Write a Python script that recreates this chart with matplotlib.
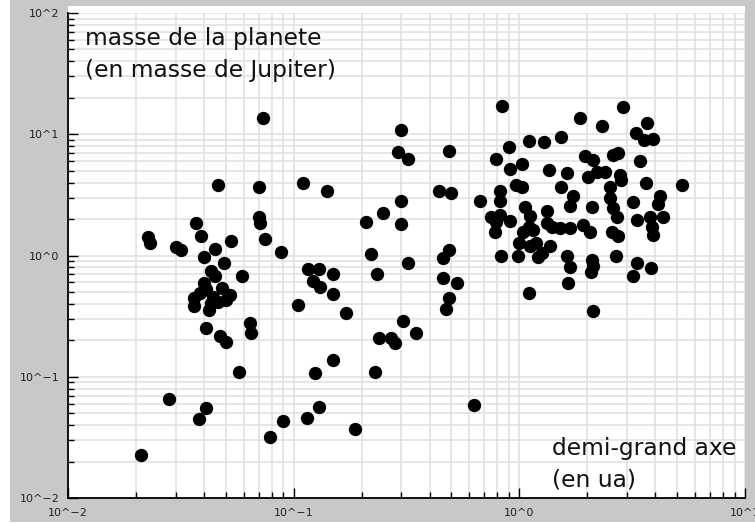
import matplotlib
matplotlib.use("Agg")
import matplotlib.pyplot as plt
from matplotlib.patches import Rectangle
from matplotlib.ticker import FixedLocator, FixedFormatter, LogLocator, NullFormatter

# Exoplanets: semi-major axis (AU) and mass (Jupiter masses)
semi_major_axis = [
    # hot / warm planets
    0.073, 0.046, 0.070, 0.070, 0.071, 0.037, 0.0227, 0.023, 0.039, 0.053,
    0.075, 0.030, 0.0316, 0.088, 0.045, 0.040, 0.049, 0.043, 0.045, 0.059,
    0.040, 0.041, 0.048, 0.036, 0.036, 0.042, 0.046, 0.052, 0.044, 0.0385,
    0.050, 0.043, 0.041, 0.047, 0.050, 0.064, 0.065, 0.057, 0.028, 0.041,
    0.038, 0.090, 0.0785, 0.021,
    # intermediate orbits
    0.30, 0.29, 0.32, 0.49, 0.11, 0.14, 0.44, 0.50, 0.30, 0.25,
    0.21, 0.30, 0.22, 0.32, 0.49, 0.46, 0.116, 0.13, 0.15, 0.235,
    0.122, 0.131, 0.46, 0.53, 0.15, 0.105, 0.49, 0.475, 0.17, 0.306,
    0.35, 0.24, 0.27, 0.28, 0.15, 0.124, 0.23, 0.13, 0.114, 0.187,
    0.63, 0.67,
    # outer planets
    0.84, 2.87, 1.86, 3.69, 2.32, 3.28, 3.57, 3.90, 1.10, 1.29,
    1.53, 0.90, 1.95, 2.13, 2.61, 2.74, 0.785, 3.42, 0.91, 1.03,
    1.35, 1.62, 2.02, 2.21, 2.40, 2.79, 2.81, 0.97, 1.03, 1.53,
    3.63, 5.24, 2.52, 0.82, 0.82, 1.73, 1.68, 2.52, 2.61, 4.20,
    4.13, 3.20, 1.06, 1.32, 2.10, 0.75, 0.82, 0.79, 0.91, 1.12,
    2.70, 3.31, 3.78, 4.34, 0.78, 1.10, 1.04, 1.15, 1.32, 1.39,
    1.51, 1.68, 1.91, 2.05, 2.57, 2.74, 3.86, 3.92, 1.00, 1.19,
    1.37, 1.12, 0.83, 0.99, 1.21, 1.26, 1.62, 1.68, 2.09, 2.11,
    2.07, 2.67, 3.31, 3.20, 3.83, 1.64, 1.10, 2.13,
]

planet_mass = [
    # hot / warm planets
    13.7, 3.8, 3.7, 2.09, 1.87, 1.84, 1.43, 1.27, 1.45, 1.32,
    1.36, 1.17, 1.11, 1.07, 1.13, 0.97, 0.87, 0.745, 0.68, 0.68,
    0.59, 0.53, 0.54, 0.45, 0.38, 0.355, 0.41, 0.47, 0.455, 0.49,
    0.43, 0.405, 0.25, 0.218, 0.195, 0.276, 0.228, 0.109, 0.065, 0.055,
    0.0446, 0.043, 0.032, 0.0227,
    # intermediate orbits
    10.8, 7.1, 6.2, 7.3, 4.0, 3.4, 3.4, 3.26, 2.83, 2.23,
    1.88, 1.82, 1.02, 0.87, 1.11, 0.96, 0.77, 0.77, 0.71, 0.70,
    0.62, 0.555, 0.65, 0.59, 0.477, 0.39, 0.444, 0.364, 0.336, 0.29,
    0.228, 0.21, 0.208, 0.189, 0.137, 0.107, 0.11, 0.056, 0.0455, 0.037,
    0.058, 2.83,
    # outer planets
    17.2, 16.7, 13.7, 12.3, 11.8, 10.2, 9.05, 9.1, 8.85, 8.6,
    9.5, 7.8, 6.66, 6.1, 6.74, 7.07, 6.2, 6.05, 5.2, 5.65,
    5.07, 4.8, 4.47, 4.9, 4.84, 4.6, 4.2, 3.85, 3.67, 3.65,
    3.94, 3.84, 3.67, 3.38, 2.84, 3.10, 2.58, 2.96, 2.45, 3.10,
    2.66, 2.75, 2.51, 2.33, 2.5, 2.09, 2.16, 1.90, 1.93, 2.13,
    2.09, 1.98, 2.06, 2.09, 1.57, 1.73, 1.57, 1.62, 1.84, 1.73,
    1.68, 1.68, 1.79, 1.57, 1.57, 1.46, 1.73, 1.48, 1.26, 1.26,
    1.20, 1.20, 1.0, 1.0, 0.98, 1.04, 0.99, 0.80, 0.91, 0.82,
    0.73, 0.99, 0.86, 0.68, 0.79, 0.595, 0.49, 0.35,
]

x_ticks = [0.01, 0.1, 1, 10]
x_tick_labels = ["10^\u22122", "10^\u22121", "10^0", "10^1"]
y_ticks = [0.01, 0.1, 1, 10, 100]
y_tick_labels = ["10^\u22122", "10^\u22121", "10^0", "10^1", "10^2"]

y_title = ["masse de la planete", "(en masse de Jupiter)"]
x_title = ["demi-grand axe", "(en ua)"]

W, H = 755, 523
fig = plt.figure(figsize=(W / 100, H / 100), dpi=100, facecolor="white")

# grey frame and white plotting panel
fig.patches.append(Rectangle((10 / W, 1.3 / H), 1 - 10 / W, 1 - 1.3 / H,
                             transform=fig.transFigure, facecolor="#c8c8c8",
                             edgecolor="none", zorder=-10))
fig.patches.append(Rectangle((68 / W, 25 / H), 677 / W, 492 / H,
                             transform=fig.transFigure, facecolor="white",
                             edgecolor="none", zorder=-9))

ax = fig.add_axes([68 / W, 25 / H, 677 / W, 485 / H])
ax.set_facecolor("white")
ax.set_xscale("log")
ax.set_yscale("log")
ax.set_xlim(0.01, 10)
ax.set_ylim(0.01, 100)

ax.xaxis.set_major_locator(FixedLocator(x_ticks))
ax.xaxis.set_major_formatter(FixedFormatter(x_tick_labels))
ax.yaxis.set_major_locator(FixedLocator(y_ticks))
ax.yaxis.set_major_formatter(FixedFormatter(y_tick_labels))
for axis in (ax.xaxis, ax.yaxis):
    axis.set_minor_locator(LogLocator(base=10, subs=range(2, 10), numticks=20))
    axis.set_minor_formatter(NullFormatter())

ax.grid(True, which="both", color="#e2e2e2", linewidth=1.2, zorder=0)
ax.set_axisbelow(True)

for side in ("top", "right"):
    ax.spines[side].set_visible(False)
for side in ("left", "bottom"):
    ax.spines[side].set_color("black")
    ax.spines[side].set_linewidth(1.3)

ax.tick_params(which="major", direction="in", length=7, width=1.0,
               labelsize=8, labelcolor="#222222", top=False, right=False)
ax.tick_params(which="minor", direction="in", length=4, width=1.0,
               top=False, right=False)
ax.tick_params(axis="x", which="major", pad=7)
ax.tick_params(axis="y", which="major", pad=6)

ax.plot(semi_major_axis, planet_mass, linestyle="none", marker="o",
        markersize=9.6, markerfacecolor="black", markeredgewidth=0,
        zorder=3, clip_on=False)

fs = 16.8
ax.text(0.0251, 0.934, y_title[0], transform=ax.transAxes, fontsize=fs,
        ha="left", va="baseline", color="#111111")
ax.text(0.0251, 0.868, y_title[1], transform=ax.transAxes, fontsize=fs,
        ha="left", va="baseline", color="#111111")
ax.text(0.7145, 0.0887, x_title[0], transform=ax.transAxes, fontsize=fs,
        ha="left", va="baseline", color="#111111")
ax.text(0.7145, 0.0227, x_title[1], transform=ax.transAxes, fontsize=fs,
        ha="left", va="baseline", color="#111111")

fig.savefig("out.png", dpi=100, facecolor=fig.get_facecolor())
